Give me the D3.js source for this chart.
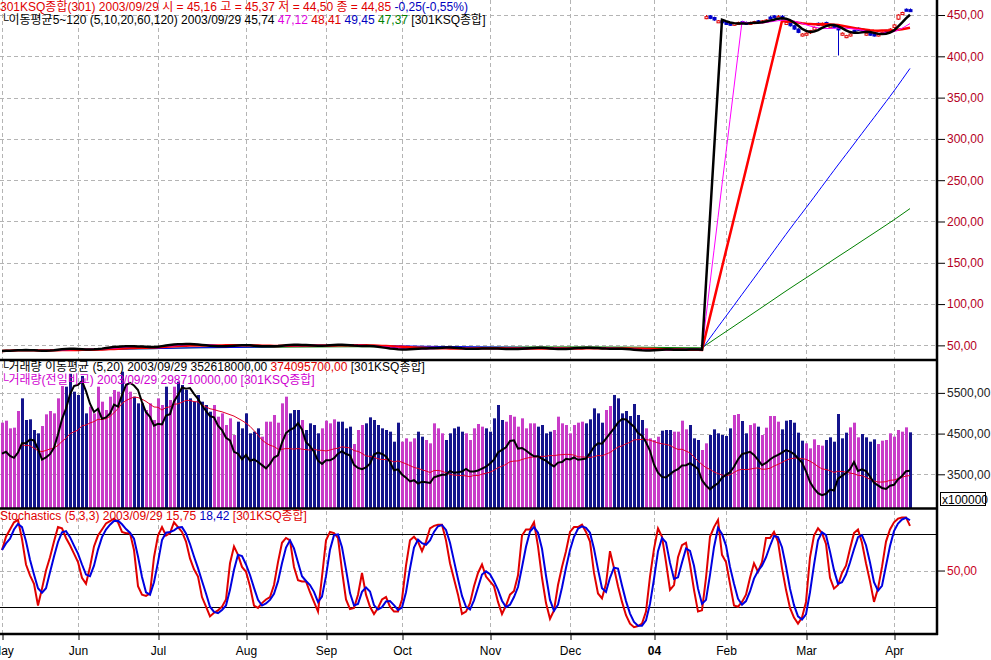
<!DOCTYPE html>
<html>
<head>
<meta charset="utf-8">
<script src="https://cdn.jsdelivr.net/npm/d3@7"></script>
<style>
  body { margin: 0; background: #fff; }
  svg { display: block; }
  text { font-family: "Liberation Sans", "Noto Sans CJK KR", sans-serif; font-size: 12px; }
</style>
</head>
<body>
<script>
// ---- data (one value per trading day, 2003-05-02 .. 2004-04-07) ----
var closes = [
  43.2, 43.6, 44.0, 44.5, 44.8, 44.3, 43.9, 43.7, 43.5, 43.0,
  43.5, 44.0, 44.6, 45.3, 46.0, 46.1, 45.8, 45.7, 45.4, 45.1,
  44.7, 44.6, 45.3, 46.2, 46.8, 47.4, 48.0, 48.5, 49.0, 49.0,
  48.8, 49.0, 49.3, 48.7, 47.9, 47.6, 47.6, 47.8, 49.0, 50.2,
  50.9, 50.7, 51.1, 51.9, 51.8, 51.7, 51.4, 50.9, 50.6, 50.3,
  49.5, 49.0, 48.6, 48.8, 48.9, 49.0, 49.2, 50.2, 50.8, 50.4,
  50.0, 49.8, 49.3, 48.8, 48.7, 48.8, 48.9, 49.0, 49.4, 50.1,
  50.8, 51.1, 51.0, 50.4, 50.1, 50.1, 50.0, 49.7, 49.4, 49.2,
  50.0, 50.8, 51.2, 51.2, 51.0, 50.2, 49.4, 49.0, 49.1, 49.5,
  49.9, 49.0, 48.2, 47.5, 46.9, 46.3, 45.9, 45.0, 44.85, 44.6,
  44.9, 45.6, 46.2, 46.4, 46.3, 46.1, 46.5, 47.0, 47.3, 47.6,
  47.8, 47.3, 46.8, 46.4, 46.0, 45.5, 45.6, 45.8, 46.1, 46.4,
  46.6, 46.3, 46.2, 46.0, 45.6, 45.2, 45.4, 45.6, 45.7, 46.0,
  46.8, 47.1, 47.2, 47.5, 47.0, 46.3, 45.6, 45.0, 45.2, 45.7,
  46.1, 46.4, 46.8, 47.0, 47.1, 47.3, 47.1, 46.9, 46.3, 45.8,
  45.7, 46.0, 46.5, 46.2, 45.8, 45.3, 44.8, 44.3, 43.9, 43.8,
  43.7, 43.9, 44.4, 44.9, 45.3, 45.1, 44.8, 44.3, 44.4, 44.9,
  45.2, 45.3, 45.0, 44.6, 44.2, 44.3,
  448, 446, 444, 443, 441, 439, 438, 440, 441, 440,
  439, 441, 442, 441, 443, 444, 446, 447, 448, 446,
  441, 437, 433, 429, 427, 428, 431, 435, 438, 440,
  439, 437, 435, 432, 428, 425, 427, 430, 432, 431,
  428, 426, 425, 427, 429, 430, 433, 438, 450, 453,
  456, 455
];

// candles after the index rebase (from day 176 on)
var candleStart = 176;
var opens = [
  446, 449, 447, 442, 443, 441, 440, 438, 439.5, 442,
  441, 439, 440.5, 443, 441, 442.5, 447.5, 449, 446, 448.5,
  439.5, 441, 437, 433, 425.5, 426.5, 428.5, 432, 440, 438,
  441, 435.5, 438, 436, 426, 423.5, 425, 431.5, 434, 433,
  426.5, 428, 427, 425, 427.5, 431.5, 431, 435, 445, 450.5,
  457, 456.5
];
var highs = [
  450, 450, 448, 444, 444, 442, 441, 441, 442, 443,
  442, 442, 443, 444, 444, 445, 449, 450, 450, 450,
  442, 442, 438, 434, 428, 429, 432, 436, 441, 441,
  442, 438, 439, 437, 429, 426, 428, 432, 435, 434,
  429, 429, 428, 428, 430, 432, 434, 439, 451, 454,
  458, 458
];
var lows = [
  445, 445, 443, 441, 440, 438, 437, 437, 438, 439,
  438, 438, 439, 440, 440, 441, 445, 446, 445, 445,
  438, 436, 432, 428, 424, 425, 427, 431, 437, 437,
  438, 434, 434, 401, 425, 422, 424, 429, 431, 430,
  425, 425, 424, 424, 427, 429, 430, 434, 444, 450,
  455, 454
];

// volume, x100000 shares
var volumes = [
  4006, 4100, 3740, 3772, 4554, 5149, 4132, 4163, 3662, 3506,
  3850, 4398, 4554, 4444, 5149, 5728, 5697, 6300, 5462, 5305,
  6200, 4444, 4758, 4444, 5697, 4992, 4601, 5227, 5540, 5462,
  6400, 5853, 5462, 5227, 4914, 4914, 4601, 4914, 4132, 5149,
  4836, 5697, 5071, 5697, 5931, 5775, 5540, 5149, 4992, 5305,
  4992, 4836, 4523, 4836, 4288, 4444, 3897, 4210, 3427, 4053,
  3740, 4444, 3506, 3584, 3740, 3349, 4053, 4053, 4366, 4006,
  4914, 5227, 4444, 4601, 4601, 4132, 3662, 3975, 3897, 3506,
  3740, 4100, 3975, 4163, 4053, 4053, 3740, 3819, 3005, 3662,
  3897, 3975, 4257, 4132, 3897, 3740, 3662, 3584, 3114, 4006,
  3114, 3271, 3114, 3271, 3584, 3349, 3193, 3036, 3975, 3740,
  3506, 3193, 3506, 3740, 3819, 3584, 3506, 3193, 3740, 3944,
  3819, 3740, 3584, 4210, 4836, 4132, 4053, 4366, 4288, 3819,
  4210, 3740, 3975, 3975, 3819, 3897, 3506, 3584, 3662, 4288,
  3975, 3897, 3506, 3897, 4006, 4053, 3975, 4163, 4679, 4444,
  4006, 4601, 4789, 5305, 5149, 4444, 4554, 4319, 4883, 4366,
  4132, 3740, 3271, 3193, 3349, 3631, 3662, 3662, 3584, 3584,
  4100, 3693, 3897, 3271, 3193, 2723, 3036, 3427, 3693, 3506,
  3427, 3380, 3740, 4366, 4413, 4085, 3506, 3897, 3975, 3819,
  3427, 3772, 4319, 4319, 4053, 3693, 4100, 4132, 4006, 3537,
  3161, 3036, 2801, 3224, 2958, 2927, 3193, 3318, 3114, 4413,
  3271, 3537, 3787, 4006, 3318, 3474, 3318, 3114, 3224, 3005,
  3161, 3193, 3506, 3349, 3662, 3584, 3787, 3553
];

// slow stochastics %K (5,3,3)
var stochK = [
  67, 78, 84, 90, 92, 76, 55, 46, 39, 21,
  35, 50, 61, 74, 86, 85, 77, 71, 64, 57,
  44, 39, 53, 70, 79, 84, 89, 91, 93, 90,
  82, 81, 81, 67, 37, 30, 29, 31, 61, 79,
  86, 79, 81, 90, 86, 82, 74, 60, 51, 45,
  28, 20, 12, 15, 17, 20, 26, 56, 70, 63,
  53, 49, 37, 21, 19, 23, 26, 28, 38, 57,
  73, 77, 75, 53, 42, 41, 41, 32, 24, 16,
  45, 75, 82, 81, 77, 50, 26, 18, 19, 30,
  48, 30, 20, 14, 19, 26, 28, 20, 16, 16,
  26, 54, 75, 78, 74, 66, 74, 85, 87, 88,
  88, 75, 56, 43, 30, 14, 16, 23, 37, 48,
  55, 45, 41, 37, 24, 14, 21, 30, 33, 46,
  79, 84, 84, 90, 70, 44, 23, 10, 17, 38,
  53, 66, 82, 86, 86, 88, 82, 74, 48, 31,
  27, 39, 66, 52, 37, 24, 13, 6, 3, 4,
  6, 16, 45, 68, 85, 78, 57, 34, 38, 61,
  71, 73, 55, 34, 16, 17, 44, 78, 86, 92,
  63, 57, 39, 21, 20, 24, 30, 44, 56, 49,
  57, 77, 77, 82, 74, 52, 34, 19, 11, 6,
  11, 24, 61, 79, 85, 81, 72, 44, 35, 38,
  48, 54, 68, 81, 84, 73, 56, 41, 24, 35,
  53, 74, 84, 90, 93, 94, 94, 87
];

// first trading day of each month (day index) and its label
var monthDays = [0, 19, 39, 61, 81, 100, 122, 142, 163, 181, 201, 223];
var monthLabels = ["May", "Jun", "Jul", "Aug", "Sep", "Oct", "Nov", "Dec", "04", "Feb", "Mar", "Apr"];

var priceTicks = [50, 100, 150, 200, 250, 300, 350, 400, 450];
var volTicks = [3500, 4500, 5500];
var stochTicks = [50];
var stochBands = [20, 80];

// ---- layout ----
var W = 991, H = 660, axisX = 937;
var P = {top: 0, bottom: 360}, V = {top: 360, bottom: 508.5}, S = {top: 508.5, bottom: 634};

var svg = d3.select("body").append("svg")
    .attr("width", W)
    .attr("height", H);

var x = d3.scaleLinear().domain([0, closes.length - 1]).range([2, 2 + 4 * (closes.length - 1)]);
var yPrice = d3.scaleLinear().domain([33.5, 468.2]).range([359, 0]);
var yVolAxis = d3.scaleLinear().domain([2672, 6308]).range([508, 360]);
var yVolBar = d3.scaleLinear().domain([0, 6949]).range([508, 360]);
var yStoch = d3.scaleLinear().domain([-2.6, 101]).range([634, 509]);

function sma(arr, n) {
    return arr.map(function(d, i) {
        var s = arr.slice(Math.max(0, i - n + 1), i + 1);
        return d3.mean(s);
    });
}

function fmt(d) {
    return d3.format(".2f")(d).replace(".", ",");
}

// clip paths for the three panes
var defs = svg.append("defs");
[["clipP", P], ["clipV", V], ["clipS", S]].forEach(function(c) {
    defs.append("clipPath").attr("id", c[0]).append("rect")
        .attr("x", 0).attr("y", c[1].top)
        .attr("width", axisX).attr("height", c[1].bottom - c[1].top);
});

// ---- grid ----
var grid = svg.append("g").attr("stroke", "#b4b4b4").attr("stroke-dasharray", "4,3").attr("stroke-width", 1);
grid.selectAll("line.v").data(monthDays).enter().append("line")
    .attr("x1", function(d) { return x(d) + 0.5; })
    .attr("x2", function(d) { return x(d) + 0.5; })
    .attr("y1", 0).attr("y2", 634);
grid.selectAll("line.p").data(priceTicks).enter().append("line")
    .attr("x1", 0).attr("x2", axisX)
    .attr("y1", function(d) { return Math.round(yPrice(d)) + 0.5; })
    .attr("y2", function(d) { return Math.round(yPrice(d)) + 0.5; });
grid.selectAll("line.vo").data(volTicks).enter().append("line")
    .attr("x1", 0).attr("x2", axisX)
    .attr("y1", function(d) { return Math.round(yVolAxis(d)) + 0.5; })
    .attr("y2", function(d) { return Math.round(yVolAxis(d)) + 0.5; });
grid.selectAll("line.s").data(stochTicks).enter().append("line")
    .attr("x1", 0).attr("x2", axisX)
    .attr("y1", function(d) { return Math.round(yStoch(d)) + 0.5; })
    .attr("y2", function(d) { return Math.round(yStoch(d)) + 0.5; });

// ---- price pane ----
var pricePane = svg.append("g").attr("clip-path", "url(#clipP)");

var candles = pricePane.selectAll("g.candle")
    .data(opens.map(function(o, k) {
        var i = candleStart + k;
        return {i: i, o: o, h: highs[k], l: lows[k], c: closes[i]};
    }))
    .enter().append("g").attr("class", "candle");

candles.append("line")
    .attr("x1", function(d) { return x(d.i) + 0.5; })
    .attr("x2", function(d) { return x(d.i) + 0.5; })
    .attr("y1", function(d) { return yPrice(d.h); })
    .attr("y2", function(d) { return yPrice(d.l); })
    .attr("stroke", function(d) { return d.c >= d.o ? "#e00000" : "#0000c8"; });

candles.append("rect")
    .attr("x", function(d) { return x(d.i) - 1; })
    .attr("y", function(d) { return yPrice(Math.max(d.o, d.c)); })
    .attr("width", 3)
    .attr("height", function(d) { return Math.max(2, Math.abs(yPrice(d.o) - yPrice(d.c))); })
    .attr("fill", function(d) { return d.c >= d.o ? "#fff" : "#0000c8"; })
    .attr("stroke", function(d) { return d.c >= d.o ? "#e00000" : "#0000c8"; })
    .attr("stroke-width", 1);

var priceLine = d3.line()
    .x(function(d, i) { return x(i); })
    .y(function(d) { return yPrice(d); });

var priceMAs = [
    {n: 120, color: "#008000", w: 1},
    {n: 60, color: "#0000ff", w: 1},
    {n: 20, color: "#ff0000", w: 2.5},
    {n: 10, color: "#ff00ff", w: 1},
    {n: 5, color: "#000000", w: 2.5}
];
priceMAs.forEach(function(m) {
    pricePane.append("path")
        .datum(sma(closes, m.n))
        .attr("d", priceLine)
        .attr("fill", "none")
        .attr("stroke", m.color)
        .attr("stroke-width", m.w);
});

// ---- volume pane ----
var volPane = svg.append("g").attr("clip-path", "url(#clipV)");

volPane.selectAll("rect.vol")
    .data(volumes)
    .enter().append("rect")
    .attr("class", "vol")
    .attr("x", function(d, i) { return x(i) - 1; })
    .attr("y", function(d) { return yVolBar(d); })
    .attr("width", 3)
    .attr("height", function(d) { return 508.5 - yVolBar(d); })
    .attr("fill", function(d, i) {
        return (i === 0 || closes[i] >= closes[i - 1]) ? "#c83cc8" : "#14148c";
    });

var volLine = d3.line()
    .x(function(d, i) { return x(i); })
    .y(function(d) { return yVolAxis(d); });

volPane.append("path").datum(sma(volumes, 20)).attr("d", volLine)
    .attr("fill", "none").attr("stroke", "#e0002a").attr("stroke-width", 1);
volPane.append("path").datum(sma(volumes, 5)).attr("d", volLine)
    .attr("fill", "none").attr("stroke", "#000").attr("stroke-width", 2);

// ---- stochastics pane ----
var stPane = svg.append("g").attr("clip-path", "url(#clipS)");

stPane.selectAll("line.band").data(stochBands).enter().append("line")
    .attr("x1", 0).attr("x2", axisX)
    .attr("y1", function(d) { return Math.round(yStoch(d)) + 0.5; })
    .attr("y2", function(d) { return Math.round(yStoch(d)) + 0.5; })
    .attr("stroke", "#000").attr("stroke-width", 1);

var stLine = d3.line()
    .x(function(d, i) { return x(i); })
    .y(function(d) { return yStoch(d); });

stPane.append("path").datum(stochK).attr("d", stLine)
    .attr("fill", "none").attr("stroke", "#e00000").attr("stroke-width", 2);
stPane.append("path").datum(sma(stochK, 3)).attr("d", stLine)
    .attr("fill", "none").attr("stroke", "#0000e0").attr("stroke-width", 2);

// ---- frame ----
var frame = svg.append("g").attr("stroke", "#000").attr("stroke-width", 2.5);
[360, 508.5, 634].forEach(function(yy) {
    frame.append("line").attr("x1", 0).attr("x2", axisX + 1).attr("y1", yy).attr("y2", yy);
});
frame.append("line").attr("x1", axisX).attr("x2", axisX).attr("y1", 0).attr("y2", 635);

// ---- right axes ----
function rightAxis(scale, majors, minors, color) {
    var g = svg.append("g").attr("transform", "translate(" + axisX + ",0)");
    g.call(d3.axisRight(scale).tickValues(minors).tickSize(5).tickFormat(""));
    g.call(d3.axisRight(scale).tickValues(majors).tickSize(8).tickPadding(2).tickFormat(fmt));
    g.selectAll(".domain").remove();
    g.selectAll("line").attr("stroke", "#000");
    g.selectAll("text").attr("fill", color).attr("font-size", 12)
        .attr("font-family", "Liberation Sans, sans-serif");
    return g;
}
rightAxis(yPrice, priceTicks, d3.range(40, 461, 10), "#b4001e");
rightAxis(yVolAxis, volTicks, d3.range(3000, 6001, 500), "#222");
rightAxis(yStoch, stochTicks, d3.range(0, 101, 10), "#c8001e");

svg.append("rect").attr("x", 940.5).attr("y", 492.5).attr("width", 45).attr("height", 13)
    .attr("fill", "#fff").attr("stroke", "#000");
svg.append("text").attr("x", 942).attr("y", 503.5).text("x100000");

// ---- bottom axis ----
var xAxisG = svg.append("g").attr("transform", "translate(0,635)")
    .call(d3.axisBottom(x).tickValues(monthDays).tickSize(5).tickPadding(6)
        .tickFormat(function(d, i) { return monthLabels[i]; }));
xAxisG.select(".domain").remove();
xAxisG.selectAll("line").attr("stroke", "#000").attr("transform", "translate(0.5,0)");
xAxisG.selectAll("text").attr("fill", "#000").attr("font-size", 12)
    .attr("font-family", "Liberation Sans, sans-serif")
    .attr("font-weight", function(d, i) { return monthLabels[i] === "04" ? "bold" : "normal"; });

// ---- legends ----
function legend(yy, parts) {
    var t = svg.append("text").attr("x", 0).attr("y", yy);
    parts.forEach(function(p) {
        t.append("tspan").attr("fill", p[1]).text(p[0]);
    });
}
legend(11, [
    ["301KSQ종합(301) 2003/09/29 시 = 45,16 고 = 45,37 저 = 44,50 종 = 44,85 ", "#e00000"],
    ["-0,25(-0,55%)", "#0000c0"]
]);
legend(24, [
    ["└이동평균5~120 (5,10,20,60,120) 2003/09/29 45,74 ", "#000"],
    ["47,12 ", "#e000e0"],
    ["48,41 ", "#e00000"],
    ["49,45 ", "#0000c0"],
    ["47,37 ", "#008000"],
    ["[301KSQ종합]", "#000"]
]);
legend(371, [
    ["└거래량 이동평균 (5,20) 2003/09/29 352618000,00 ", "#000"],
    ["374095700,00", "#e00000"],
    [" [301KSQ종합]", "#000"]
]);
legend(384, [
    ["└거래량(전일비교) 2003/09/29 298710000,00 [301KSQ종합]", "#d000d0"]
]);
legend(520, [
    ["Stochastics (5,3,3) 2003/09/29 15,75 ", "#e00000"],
    ["18,42", "#0000c0"],
    [" [301KSQ종합]", "#e00000"]
]);
</script>
</body>
</html>
